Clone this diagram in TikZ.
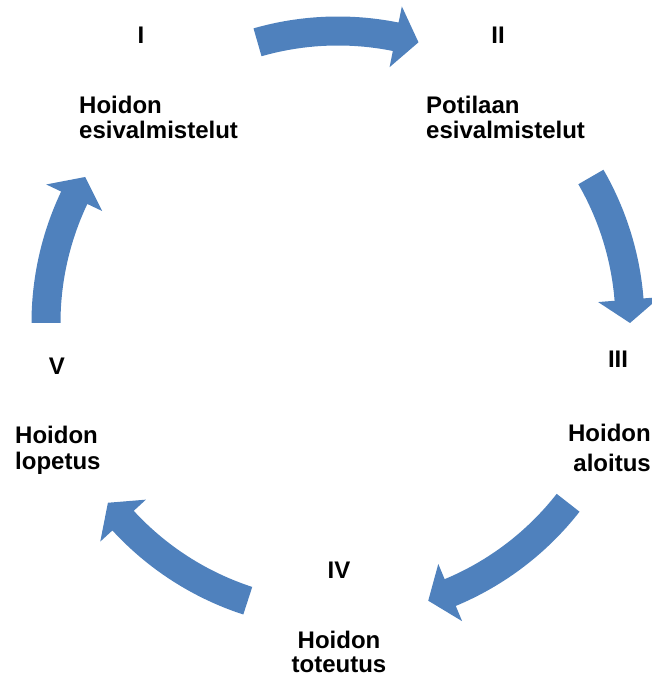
\documentclass[tikz,border=0pt]{standalone}
\usepackage{fontspec}
\setmainfont{Liberation Sans}
\definecolor{cycleblue}{RGB}{79,129,189}
\begin{document}
\begin{tikzpicture}[x=1pt,y=1pt,
  lab/.style={inner sep=0pt, font=\bfseries\fontsize{24}{22}\selectfont},
  arrowfill/.style={fill=cycleblue}]
\useasboundingbox (0,0) rectangle (652,677);
% circular arrows
\begin{scope}[shift={(338pt,354pt)}]
\foreach \a/\b in {106/74, 30/0, -38/-72, -108/-142, 180/150} {
  \pgfmathsetmacro\c{\b+4.6}
  \fill[arrowfill] (\a:306.5pt) arc[start angle=\a, end angle=\c, radius=306.5pt]
    -- (\c:323pt) -- (\b:292pt) -- (\c:261pt) -- (\c:277.5pt)
    arc[start angle=\c, end angle=\a, radius=277.5pt] -- cycle;
}
\end{scope}
% stage I
\node[lab, anchor=base] (n1) at (141,633.5) {I};
\node[lab, anchor=base west] (t1a) at (79,563.3) {Hoidon};
\node[lab, anchor=base west] (t1b) at (79,538.5) {esivalmistelut};
% stage II
\node[lab, anchor=base] (n2) at (498,633.5) {II};
\node[lab, anchor=base west] (t2a) at (426,563.5) {Potilaan};
\node[lab, anchor=base west] (t2b) at (426,538.5) {esivalmistelut};
% stage III
\node[lab, anchor=base] (n3) at (618,309) {III};
\node[lab, anchor=base east] (t3a) at (651,235) {Hoidon};
\node[lab, anchor=base east] (t3b) at (651,205) {aloitus};
% stage IV
\node[lab, anchor=base] (n4) at (339,98) {IV};
\node[lab, anchor=base] (t4a) at (339,28) {Hoidon};
\node[lab, anchor=base] (t4b) at (339,4.5) {toteutus};
% stage V
\node[lab, anchor=base] (n5) at (57,302) {V};
\node[lab, anchor=base west] (t5a) at (15,233) {Hoidon};
\node[lab, anchor=base west] (t5b) at (15,207) {lopetus};
\end{tikzpicture}
\end{document}
